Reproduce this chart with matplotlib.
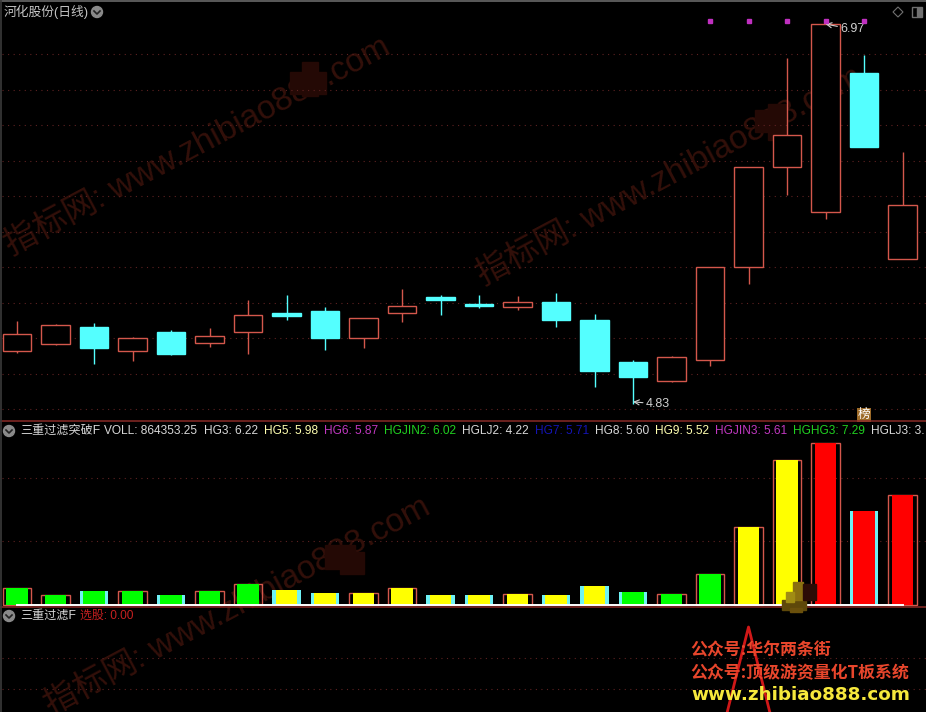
import matplotlib
matplotlib.use("Agg")
import matplotlib.pyplot as plt
from matplotlib.patches import Rectangle, Circle, Polygon

plt.rcParams['font.family'] = ['Liberation Sans', 'Noto Sans CJK SC', 'DejaVu Sans']

W, H = 926, 712

# daily candles, prices
opens = [5.128, 5.168, 5.264, 5.129, 5.235, 5.173, 5.233, 5.342, 5.354, 5.202, 5.340, 5.432,
         5.393, 5.376, 5.404, 5.303, 5.066, 4.959, 5.078, 5.601, 6.165, 5.911, 6.694, 5.646]
closes = [5.224, 5.275, 5.145, 5.202, 5.111, 5.213, 5.331, 5.325, 5.202, 5.314, 5.382, 5.416,
          5.379, 5.404, 5.303, 5.016, 4.982, 5.095, 5.601, 6.165, 6.345, 6.970, 6.277, 5.951]
highs = [5.297, 5.280, 5.286, 5.207, 5.246, 5.258, 5.416, 5.444, 5.376, 5.314, 5.478, 5.444,
         5.444, 5.438, 5.455, 5.337, 5.077, 5.100, 5.601, 6.165, 6.779, 6.970, 6.795, 6.249]
lows = [5.117, 5.162, 5.055, 5.072, 5.106, 5.151, 5.111, 5.303, 5.134, 5.146, 5.292, 5.331,
        5.371, 5.359, 5.264, 4.926, 4.830, 4.954, 5.044, 5.506, 6.007, 5.872, 6.277, 5.646]
signal_days = [18, 19, 20, 21, 22]
signal_price = 6.987
price_grid = [4.8, 5.0, 5.2, 5.4, 5.6, 5.8, 6.0, 6.2, 6.4, 6.6, 6.8]

# volume panel
volumes = [130000, 75000, 106500, 106500, 75000, 106500, 162000, 114000, 91000, 91000, 130000, 75000,
           75000, 83000, 75000, 146000, 99000, 83000, 241000, 612000, 1140500, 1275000, 738000, 864353]
# 0 green, 1 yellow, 2 red
hg_state = [0, 0, 0, 0, 0, 0, 0, 1, 1, 1, 1, 1, 1, 1, 1, 1, 0, 0, 0, 1, 1, 2, 2, 2]
volume_grid = [500000, 1000000]

# selection panel
xuangu = [0] * 19 + [1] + [0] * 4
xuangu_grid = [0.6, 0.8]

header_items = [
    ("VOLL: 864353.25", "#d8d8d8", 104), ("HG3: 6.22", "#d8d8d8", 204), ("HG5: 5.98", "#ffffb0", 264),
    ("HG6: 5.87", "#c038c0", 324), ("HGJIN2: 6.02", "#20d020", 384), ("HGLJ2: 4.22", "#d8d8d8", 462),
    ("HG7: 5.71", "#1414b4", 535), ("HG8: 5.60", "#d8d8d8", 595), ("HG9: 5.52", "#ffffb0", 655),
    ("HGJIN3: 5.61", "#c038c0", 715), ("HGHG3: 7.29", "#20d020", 793), ("HGLJ3: 3.", "#d8d8d8", 871),
]

RED = "#d4574c"
CYAN = "#54ffff"
GRID = "#5e2222"
LW = 1.0
state_colors = {0: "#00ff00", 1: "#ffff00", 2: "#ff0000"}
days = list(range(len(opens)))
XLIM = (-0.39, 23.61)


def pane(top, bottom, ylim):
    ax = fig.add_axes([2 / W, 1 - bottom / H, (W - 2) / W, (bottom - top) / H])
    ax.set_xlim(*XLIM)
    ax.set_ylim(*ylim)
    ax.axis("off")
    return ax


def fx(x):
    return x / W


def fy(y):
    return 1 - y / H


def grid_lines(ax, values):
    for v in values:
        ax.axhline(v, color=GRID, lw=0.8, dashes=(1, 4), zorder=1)


def label(x, y, s, color="#d0d0d0", size=8.7, **kw):
    fig.text(fx(x), fy(y), s, color=color, fontsize=size, va="center", ha="left", **kw)


def chevron(x, y):
    fig.add_artist(Circle((x, H - y), 5.5, transform=None, color="#8a8a8a", zorder=5))
    fig.add_artist(plt.Line2D([x - 3, x, x + 3], [H - y + 1, H - y - 2, H - y + 1], transform=None,
                              color="#222222", lw=1.2, zorder=6))


fig = plt.figure(figsize=(W / 100, H / 100), dpi=100, facecolor="black")

# watermark sits behind the transparent panes
for x, y in [(12, 256), (484, 286), (52, 716)]:
    fig.text(fx(x), fy(y), "指标网: www.zhibiao888.com", color="#33100a", fontsize=24, rotation=28,
             rotation_mode="anchor", ha="left", va="baseline", zorder=-5)
for x, y, w, h in [(290, 72, 36, 22), (302, 62, 16, 34), (755, 110, 32, 22), (768, 104, 18, 36),
                   (325, 545, 30, 24), (340, 552, 24, 22)]:
    fig.add_artist(Rectangle((x, H - y - h), w, h, transform=None, color="#240905", zorder=-4))

# price pane
ax1 = pane(2, 421, (4.734, 7.094))
grid_lines(ax1, price_grid)
for d, o, c, hi, lo in zip(days, opens, closes, highs, lows):
    up = c >= o
    color = RED if up else CYAN
    top, bot = max(o, c), min(o, c)
    ax1.plot([d, d], [top, hi], color=color, lw=LW, zorder=2, solid_capstyle="butt")
    ax1.plot([d, d], [lo, bot], color=color, lw=LW, zorder=2, solid_capstyle="butt")
    ax1.bar(d, top - bot, bottom=bot, width=0.74, facecolor="black" if up else CYAN,
            edgecolor=color, lw=LW, zorder=3)
ax1.plot(signal_days, [signal_price] * len(signal_days), ls="none", marker="s", ms=2.8,
         color="#c030c0", zorder=4)
ax1.annotate("6.97", xy=(21, max(highs)), xytext=(21.38, 6.94), color="#d0d0d0", fontsize=9,
             va="center", arrowprops=dict(arrowstyle="->", color="#d0d0d0", lw=0.8, shrinkA=0, shrinkB=0))
ax1.annotate("4.83", xy=(16, min(lows) + 0.012), xytext=(16.33, min(lows)), color="#d0d0d0", fontsize=9,
             va="center", arrowprops=dict(arrowstyle="->", color="#d0d0d0", lw=0.8, shrinkA=0, shrinkB=0))
ax1.text(22, 4.766, "榜", color="white", fontsize=9, ha="center", va="center",
         bbox=dict(boxstyle="square,pad=0.08", facecolor="#9c6a28", edgecolor="none"), zorder=5)

# volume pane
ax2 = pane(421, 607, (-19700, 1448000))
grid_lines(ax2, volume_grid)
for d, v, st, o, c in zip(days, volumes, hg_state, opens, closes):
    if c >= o:
        ax2.bar(d, v, width=0.74, facecolor="none", edgecolor=RED, lw=LW, zorder=2)
    else:
        ax2.bar(d, v, width=0.74, color="#6ff2f5", lw=0, zorder=2)
    ax2.bar(d, v, width=0.56, color=state_colors[st], lw=0, zorder=3)
ax2.plot(days, [0] * len(days), color="white", lw=1.4, zorder=4)

# selection pane
ax3 = pane(607, 712, (0.448, 1.13))
grid_lines(ax3, xuangu_grid)
ax3.plot(days, xuangu, color="#d01818", lw=2, zorder=3)

# separators and frame
for y in [421, 607]:
    fig.add_artist(plt.Line2D([0, W], [H - y, H - y], transform=None, color="#8a2a26", lw=1.1, zorder=4))
fig.add_artist(plt.Line2D([0, W], [H - 1, H - 1], transform=None, color="#5a5a5a", lw=1.4, zorder=4))
fig.add_artist(plt.Line2D([1, 1], [0, H], transform=None, color="#3a3a3a", lw=1.2, zorder=4))

# headers
label(4, 12, "河化股份(日线)", "#c4c4c4", 9.2)
chevron(97, 12)
chevron(9, 431)
label(20, 431, "三重过滤突破F", "#d8d8d8")
for text, color, x in header_items:
    label(x, 431, text, color, 8.6)
chevron(9, 616)
label(20, 616, "三重过滤F", "#d8d8d8")
label(80, 616, "选股: 0.00", "#c82020", 8.6)

# top right icons
fig.add_artist(Polygon([(893, H - 12), (898, H - 7), (903, H - 12), (898, H - 17)], closed=True, fill=False,
                       transform=None, edgecolor="#707070", lw=0.8, zorder=5))
fig.add_artist(Rectangle((912, H - 17), 10, 10, transform=None, fill=False, edgecolor="#707070", lw=1, zorder=5))
fig.add_artist(Rectangle((917, H - 16), 4, 8, transform=None, color="#707070", zorder=5))

# mosaic on the volume pane
for x, y, w, h, c in [(782, 600, 24, 10, "#5e480a"), (793, 582, 10, 18, "#8a7010"), (786, 592, 8, 10, "#a08c14"),
                      (803, 584, 13, 16, "#2c0c06"), (790, 608, 12, 4, "#6a500c")]:
    fig.add_artist(Rectangle((x, H - y - h), w, h, transform=None, color=c, zorder=6))

# overlay text
for y, s in [(650, "公众号:华尔两条街"), (673, "公众号:顶级游资量化T板系统")]:
    fig.text(fx(690), fy(y), s, color="#e8462c", fontsize=12.2, fontweight="bold", family=["Noto Sans CJK SC"],
             va="center", ha="left", zorder=7)
fig.text(fx(691), fy(695), "www.zhibiao888.com", color="#f6e83c", fontsize=13.2, fontweight="bold",
         family=["DejaVu Sans"], va="center", ha="left", zorder=7)

fig.savefig("out.png", dpi=100, facecolor="black")
